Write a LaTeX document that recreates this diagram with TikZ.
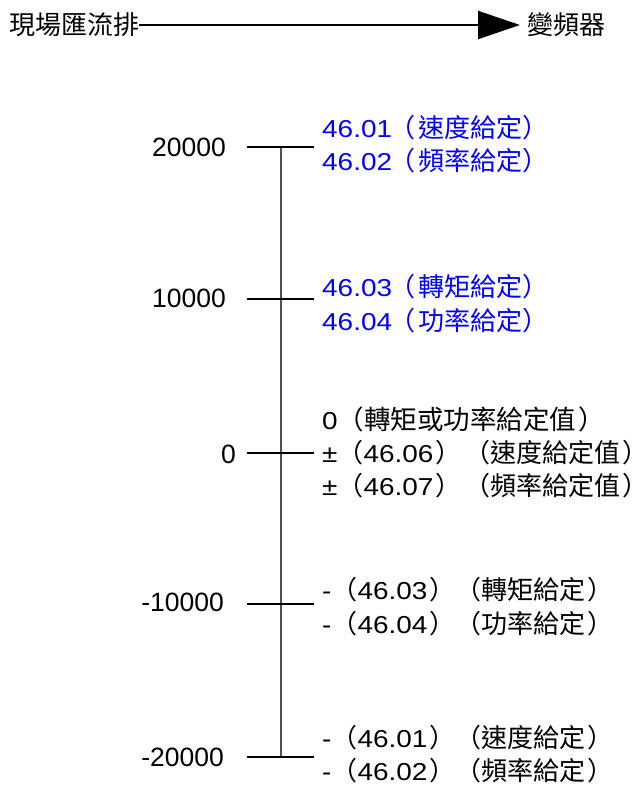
\documentclass[tikz,border=0pt]{standalone}
\usepackage{fontspec}
\setmainfont{Liberation Sans}
\newfontfamily\cjk{Noto Sans CJK TC}
\newfontfamily\numfont{Liberation Sans}[FakeStretch=1.14]
\usetikzlibrary{arrows.meta}
\newcommand\zh[2][26]{{\cjk\fontsize{#1}{30}\selectfont #2}}
\definecolor{axisgray}{RGB}{80,80,80}

\begin{document}
\begin{tikzpicture}[x=1pt,y=-1pt,
  lab/.style={inner sep=0pt,anchor=base east,font=\fontsize{26.5}{30}\selectfont},
  val/.style={inner sep=0pt,anchor=base west,font=\numfont\fontsize{24.5}{28}\selectfont},
  ttl/.style={inner sep=0pt,font=\cjk\fontsize{26}{30}\selectfont},
  tick/.style={line width=2pt},
  axis/.style={line width=2.4pt,axisgray}]
  \useasboundingbox (0,0) rectangle (636,788);
  \node[ttl,anchor=west] (bus) at (9,25) {現場匯流排};
  \node[ttl,anchor=west] (vfd) at (527,25) {變頻器};
  \draw[line width=2pt,-{Triangle[length=42pt,width=28pt]},shorten >=7pt] (bus.east) -- (vfd.west);

  \coordinate (p20) at (281,147);
  \coordinate (p10) at (281,299);
  \coordinate (p0)  at (281,453);
  \coordinate (m10) at (281,604);
  \coordinate (m20) at (281,757);
  \draw[axis] (p20) -- (m20);
  \draw[tick] ([xshift=-34pt]p20) -- ([xshift=33pt]p20);
  \draw[tick] ([xshift=-34pt]p10) -- ([xshift=33pt]p10);
  \draw[tick] ([xshift=-34pt]p0)  -- ([xshift=33pt]p0);
  \draw[tick] ([xshift=-34pt]m10) -- ([xshift=33pt]m10);
  \draw[tick] ([xshift=-34pt]m20) -- ([xshift=33pt]m20);

  \node[lab] (lp20) at (226,156) {20000};
  \node[lab] (lp10) at (226,307) {10000};
  \node[lab] (lp0)  at (236,463) {0};
  \node[lab] (lm10) at (224,611) {-10000};
  \node[lab] (lm20) at (224,766) {-20000};

  \node[val,blue] (a1) at (322,137)   {46.01\zh{\kern-3pt（\kern3pt速度給定）}};
  \node[val,blue] (a2) at (322,170.6) {46.02\zh{\kern-3pt（\kern3pt頻率給定）}};
  \node[val,blue] (b1) at (322,296.6) {46.03\zh{\kern-3pt（\kern3pt轉矩給定）}};
  \node[val,blue] (b2) at (322,330.6) {46.04\zh{\kern-3pt（\kern3pt功率給定）}};
  \node[val] (c1) at (322,429)   {0\zh[26.5]{（轉矩或功率給定值\kern2pt）}};
  \node[val] (c2) at (322,462.6) {±\zh{（}46.06\kern2pt\zh{）\kern3pt（速度給定值\kern2pt）\kern-14pt}};
  \node[val] (c3) at (322,495.6) {±\zh{（}46.07\kern2pt\zh{）\kern3pt（頻率給定值\kern2pt）\kern-14pt}};
  \node[val] (d1) at (322,599.6) {-\zh{（}46.03\kern2pt\zh{）（轉矩給定\kern2pt）}};
  \node[val] (d2) at (322,633.6) {-\zh{（}46.04\kern2pt\zh{）（功率給定\kern2pt）}};
  \node[val] (e1) at (322,747.6) {-\zh{（}46.01\kern2pt\zh{）（速度給定\kern2pt）}};
  \node[val] (e2) at (322,780.6) {-\zh{（}46.02\kern2pt\zh{）（頻率給定\kern2pt）}};
\end{tikzpicture}
\end{document}
